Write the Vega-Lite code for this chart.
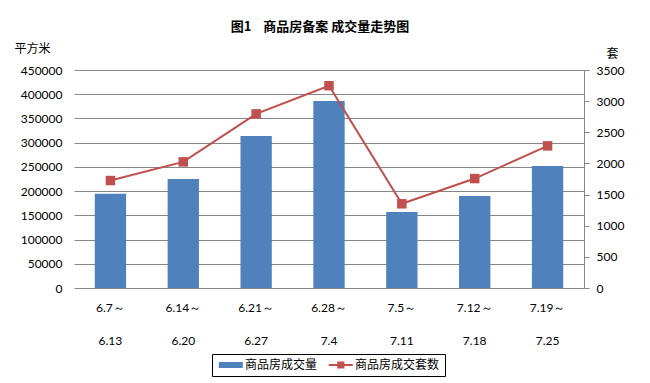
{
  "$schema": "https://vega.github.io/schema/vega-lite/v6.json",
  "width": 510,
  "height": 218,
  "autosize": "none",
  "padding": {"left": 74, "top": 70, "right": 66, "bottom": 95},
  "background": "white",
  "title": {
    "text": "图1\u00a0\u00a0\u00a0 商品房备案 成交量走势图",
    "font": "Noto Sans CJK SC",
    "fontSize": 13,
    "fontWeight": "bold",
    "color": "#000000",
    "anchor": "middle",
    "frame": "group",
    "dx": -9,
    "offset": 8
  },
  "data": {
    "values": [
      {"period": "6.7～|6.13", "area": 194400, "units": 1725},
      {"period": "6.14～|6.20", "area": 225000, "units": 2025},
      {"period": "6.21～|6.27", "area": 313700, "units": 2795},
      {"period": "6.28～|7.4", "area": 386000, "units": 3248},
      {"period": "7.5～|7.11", "area": 157000, "units": 1352},
      {"period": "7.12～|7.18", "area": 190000, "units": 1757},
      {"period": "7.19～|7.25", "area": 251800, "units": 2282}
    ]
  },
  "encoding": {
    "x": {
      "field": "period",
      "type": "nominal",
      "sort": null,
      "scale": {"paddingInner": 0.57, "paddingOuter": 0.285},
      "axis": {
        "title": null,
        "labelAngle": 0,
        "labelExpr": "split(datum.label, '|')",
        "labelLineHeight": 33,
        "labelPadding": 14,
        "labelFont": "Lato",
        "labelFontSize": 12,
        "labelColor": "#000000",
        "domain": false,
        "ticks": false
      }
    }
  },
  "layer": [
    {
      "mark": {"type": "bar"},
      "encoding": {
        "y": {
          "field": "area",
          "type": "quantitative",
          "scale": {"domain": [0, 450000], "nice": false},
          "axis": {
            "title": "平方米",
            "titleAngle": 0,
            "titleX": -60,
            "titleY": -22,
            "titleAlign": "left",
            "titleBaseline": "middle",
            "titleFont": "Noto Sans CJK SC",
            "titleFontSize": 12,
            "titleFontWeight": "normal",
            "titleColor": "#000000",
            "values": [0, 50000, 100000, 150000, 200000, 250000, 300000, 350000, 400000, 450000],
            "format": "d",
            "labelFont": "Lato",
            "labelFontSize": 12,
            "labelColor": "#000000",
            "labelPadding": 12,
            "domain": false,
            "ticks": false,
            "grid": true,
            "gridColor": "#868686",
            "gridWidth": 1
          }
        },
        "color": {
          "datum": "商品房成交量",
          "type": "nominal",
          "scale": {"domain": ["商品房成交量", "商品房成交套数"], "range": ["#4F81BD", "#C0504D"]},
          "legend": {
            "orient": "none",
            "legendX": 138,
            "legendY": 284,
            "direction": "horizontal",
            "title": null,
            "strokeColor": "#000000",
            "padding": 5,
            "labelFont": "Noto Sans CJK SC",
            "labelFontSize": 12,
            "labelColor": "#000000",
            "labelOffset": 16,
            "columnPadding": 9,
            "symbolSize": 144,
            "symbolStrokeWidth": 0,
            "symbolOpacity": 1,
            "encode": {
              "symbols": {
                "update": {
                  "shape": {"signal": "datum.value === '商品房成交量' ? 'M-0.7,-0.5H3.3V0.5H-0.7Z' : 'M-0.7,-0.17H3.3V0.17H-0.7Z M0.7,-0.6H1.9V0.6H0.7Z'"},
                  "fill": {"signal": "datum.value === '商品房成交量' ? '#4F81BD' : '#C0504D'"},
                  "stroke": {"value": "transparent"},
                  "strokeWidth": {"value": 0},
                  "opacity": {"value": 1},
                  "size": {"value": 144}
                }
              }
            }
          }
        }
      }
    },
    {
      "mark": {"type": "line", "strokeWidth": 2},
      "encoding": {
        "y": {
          "field": "units",
          "type": "quantitative",
          "scale": {"domain": [0, 3500], "nice": false},
          "axis": {
            "orient": "right",
            "title": "套",
            "titleAngle": 0,
            "titleX": 28,
            "titleY": -17,
            "titleAlign": "center",
            "titleBaseline": "middle",
            "titleFont": "Noto Sans CJK SC",
            "titleFontSize": 12,
            "titleFontWeight": "normal",
            "titleColor": "#000000",
            "values": [0, 500, 1000, 1500, 2000, 2500, 3000, 3500],
            "format": "d",
            "labelFont": "Lato",
            "labelFontSize": 12,
            "labelColor": "#000000",
            "labelPadding": 7,
            "domain": true,
            "domainColor": "#868686",
            "ticks": true,
            "tickSize": 5,
            "tickColor": "#868686",
            "grid": false
          }
        },
        "color": {"datum": "商品房成交套数", "type": "nominal"}
      }
    },
    {
      "mark": {"type": "point", "shape": "square", "filled": true, "size": 90, "opacity": 1, "color": "#C0504D"},
      "encoding": {
        "y": {"field": "units", "type": "quantitative", "scale": {"domain": [0, 3500], "nice": false}, "axis": null}
      }
    }
  ],
  "resolve": {"scale": {"y": "independent"}},
  "config": {
    "view": {"stroke": null}
  }
}
